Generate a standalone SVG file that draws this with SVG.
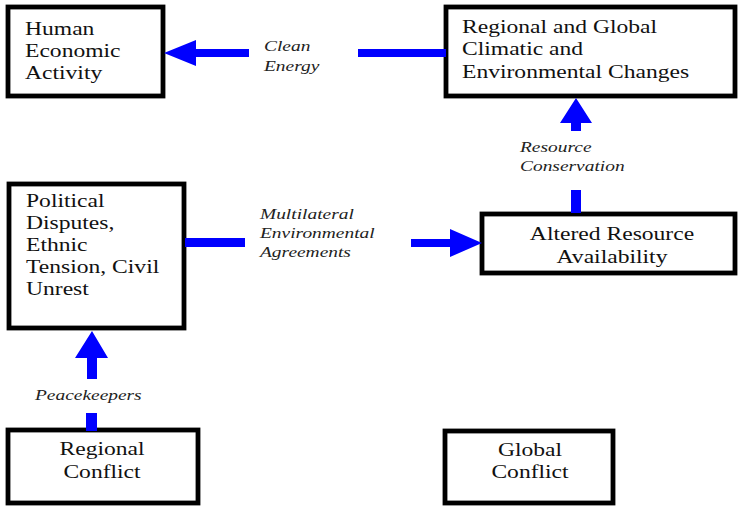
<svg xmlns="http://www.w3.org/2000/svg" width="738" height="506" viewBox="0 0 738 506">
<style>
.box{fill:#fff;stroke:#000;stroke-width:4.8}
.t{font-family:"Liberation Serif","Times New Roman",serif;font-size:18px;fill:#111}
.c{text-anchor:middle}
.l{font-family:"Liberation Serif","Times New Roman",serif;font-size:14.5px;font-style:italic;fill:#222}
.a{fill:#0000ff}
</style>
<rect width="738" height="506" fill="#fff"/>
<g id="human">
<rect class="box" x="8" y="7" width="155" height="89"/>
<text class="t" transform="translate(25,0) scale(1.31,1)"><tspan x="0" y="35">Human</tspan><tspan x="0" y="57">Economic</tspan><tspan x="0" y="79">Activity</tspan></text>
</g>
<g id="climate">
<rect class="box" x="446" y="7" width="289" height="89"/>
<text class="t" transform="translate(462,0) scale(1.31,1)"><tspan x="0" y="33">Regional and Global</tspan><tspan x="0" y="55.5">Climatic and</tspan><tspan x="0" y="78">Environmental Changes</tspan></text>
</g>
<g id="political">
<rect class="box" x="9" y="184" width="175" height="144"/>
<text class="t" transform="translate(26,0) scale(1.31,1)"><tspan x="0" y="207">Political</tspan><tspan x="0" y="229">Disputes,</tspan><tspan x="0" y="251">Ethnic</tspan><tspan x="0" y="273">Tension, Civil</tspan><tspan x="0" y="295">Unrest</tspan></text>
</g>
<g id="resource">
<rect class="box" x="482" y="214" width="253" height="59"/>
<text class="t c" transform="translate(612,0) scale(1.31,1)"><tspan x="0" y="240">Altered Resource</tspan><tspan x="0" y="263">Availability</tspan></text>
</g>
<g id="regional">
<rect class="box" x="8" y="430" width="190" height="73"/>
<text class="t c" transform="translate(102,0) scale(1.31,1)"><tspan x="0" y="455">Regional</tspan><tspan x="0" y="478">Conflict</tspan></text>
</g>
<g id="global">
<rect class="box" x="445" y="431" width="168" height="72"/>
<text class="t c" transform="translate(530,0) scale(1.31,1)"><tspan x="0" y="456">Global</tspan><tspan x="0" y="478">Conflict</tspan></text>
</g>
<g id="connectors">
<polygon class="a" points="164,53 196,40 196,49 249,49 249,57 196,57 196,66"/>
<rect class="a" x="358" y="49" width="88" height="8"/>
<text class="l" transform="translate(264,0) scale(1.34,1)"><tspan x="0" y="51">Clean</tspan><tspan x="0" y="71">Energy</tspan></text>
<polygon class="a" points="576,98 592,123 581,123 581,131 571,131 571,123 560,123"/>
<rect class="a" x="571" y="190" width="10" height="23"/>
<text class="l" transform="translate(520,0) scale(1.34,1)"><tspan x="0" y="152">Resource</tspan><tspan x="0" y="171">Conservation</tspan></text>
<rect class="a" x="185" y="238" width="60" height="9"/>
<polygon class="a" points="411,239 450,239 450,229 482,243 450,257 450,247 411,247"/>
<text class="l" transform="translate(260,0) scale(1.34,1)"><tspan x="0" y="219">Multilateral</tspan><tspan x="0" y="238">Environmental</tspan><tspan x="0" y="257">Agreements</tspan></text>
<polygon class="a" points="92,331 108,358 97,358 97,379 87,379 87,358 75,358"/>
<rect class="a" x="86" y="413" width="11" height="18"/>
<text class="l" transform="translate(35,0) scale(1.34,1)"><tspan x="0" y="400">Peacekeepers</tspan></text>
</g>
</svg>
